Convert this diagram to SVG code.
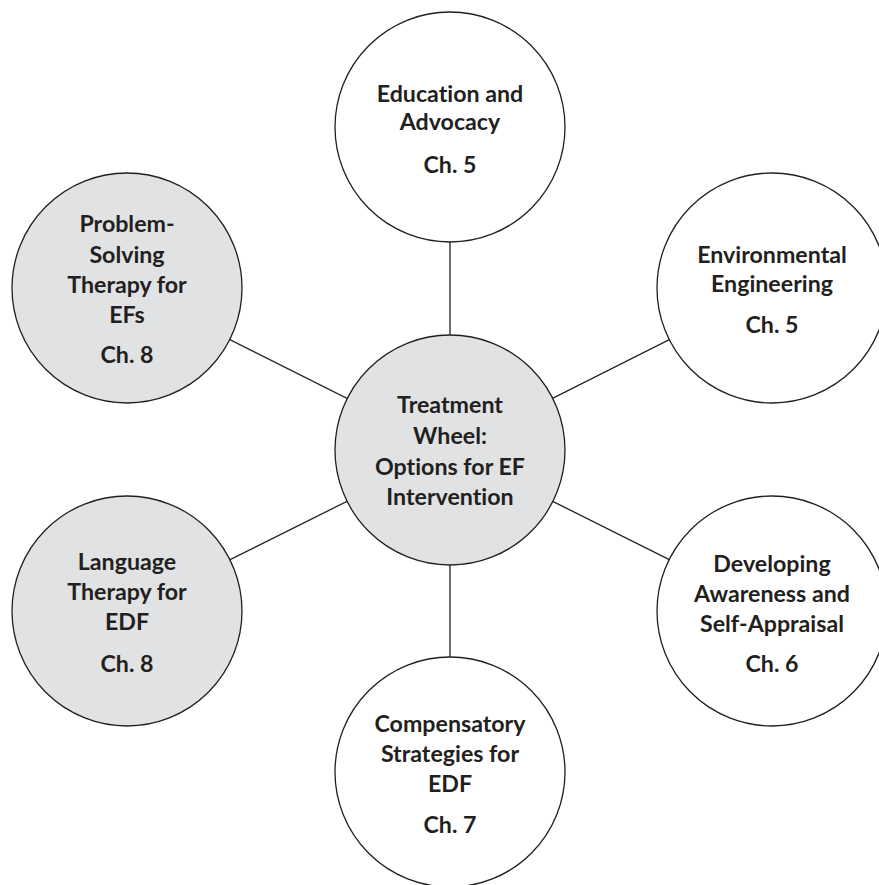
<svg xmlns="http://www.w3.org/2000/svg" width="879" height="885" viewBox="0 0 879 885">
<style>
.c{stroke:#231f20;stroke-width:1.3}
.w{fill:#ffffff}
.g{fill:#e1e2e3}
.e{stroke:#231f20;stroke-width:1.3;fill:none}
text{font-family:Lato,"Open Sans",sans-serif;font-weight:bold;font-size:23.2px;fill:#231f20;text-anchor:middle;font-variant-ligatures:none}
</style>
<rect width="879" height="885" fill="#ffffff"/>
<g id="connectors">
<line class="e" x1="450" y1="450" x2="450" y2="127"/>
<line class="e" x1="450" y1="450" x2="772" y2="288"/>
<line class="e" x1="450" y1="450" x2="772" y2="611"/>
<line class="e" x1="450" y1="450" x2="450" y2="772"/>
<line class="e" x1="450" y1="450" x2="127" y2="611"/>
<line class="e" x1="450" y1="450" x2="127" y2="288"/>
</g>
<g id="center">
<circle class="c g" cx="450" cy="450" r="115"/>
<text x="450" y="413">Treatment</text>
<text x="450" y="444">Wheel:</text>
<text x="450" y="475">Options for EF</text>
<text x="450" y="505">Intervention</text>
</g>
<g id="education">
<circle class="c w" cx="450" cy="127" r="115"/>
<text x="450" y="102">Education and</text>
<text x="450" y="130">Advocacy</text>
<text x="450" y="173">Ch. 5</text>
</g>
<g id="environmental">
<circle class="c w" cx="772" cy="288" r="115"/>
<text x="772" y="263">Environmental</text>
<text x="772" y="292">Engineering</text>
<text x="772" y="333">Ch. 5</text>
</g>
<g id="developing">
<circle class="c w" cx="772" cy="611" r="115"/>
<text x="772" y="572">Developing</text>
<text x="772" y="602">Awareness and</text>
<text x="772" y="632">Self-Appraisal</text>
<text x="772" y="672">Ch. 6</text>
</g>
<g id="compensatory">
<circle class="c w" cx="450" cy="772" r="115"/>
<text x="450" y="732">Compensatory</text>
<text x="450" y="762">Strategies for</text>
<text x="450" y="792">EDF</text>
<text x="450" y="833">Ch. 7</text>
</g>
<g id="language">
<circle class="c g" cx="127" cy="611" r="115"/>
<text x="127" y="570">Language</text>
<text x="127" y="600">Therapy for</text>
<text x="127" y="630">EDF</text>
<text x="127" y="672">Ch. 8</text>
</g>
<g id="problem">
<circle class="c g" cx="127" cy="288" r="115"/>
<text x="127" y="232">Problem-</text>
<text x="127" y="263">Solving</text>
<text x="127" y="293">Therapy for</text>
<text x="127" y="323">EFs</text>
<text x="127" y="363">Ch. 8</text>
</g>
</svg>
